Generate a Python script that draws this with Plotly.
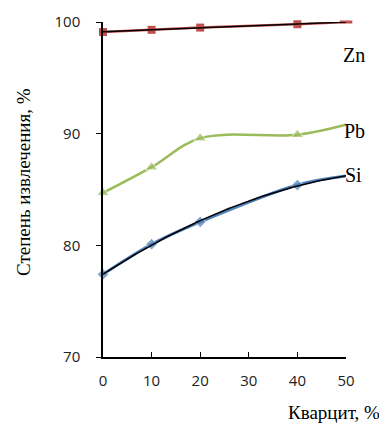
import numpy as np
import plotly.graph_objects as go

quartzite = [0, 10, 20, 40, 50]
zn = [99.1, 99.3, 99.5, 99.8, 100.0]
pb = [84.7, 87.0, 89.6, 89.9, 90.8]
si = [77.4, 80.1, 82.1, 85.4, 86.2]
x_ticks = [0, 10, 20, 30, 40, 50]
y_ticks = [70, 80, 90, 100]
series_names = ["Zn", "Pb", "Si"]

RED = "#C0504D"
GREEN = "#9BBB59"
BLUE = "#4F81BD"

fig = go.Figure()

# Zn
fig.add_trace(go.Scatter(x=quartzite, y=zn, mode="lines", line=dict(color=RED, width=2.5),
                         cliponaxis=False, showlegend=False))
fig.add_trace(go.Scatter(x=quartzite[:4], y=zn[:4], mode="markers",
                         marker=dict(symbol="square", size=8, color=RED),
                         cliponaxis=False, showlegend=False))
fig.add_trace(go.Scatter(x=quartzite[4:], y=zn[4:], mode="markers",
                         marker=dict(symbol="line-ew", size=9, color=RED,
                                     line=dict(color=RED, width=3)),
                         cliponaxis=False, showlegend=False))
# Zn linear trendline
xf = np.linspace(0, 50, 101)
cz = np.polyfit(quartzite[:4], zn[:4], 1)
fig.add_trace(go.Scatter(x=xf, y=np.polyval(cz, xf), mode="lines", line=dict(color="black", width=1.5),
                         cliponaxis=False, showlegend=False))

# Pb
fig.add_trace(go.Scatter(x=quartzite, y=pb, mode="lines+markers", line=dict(color=GREEN, width=2.5, shape="spline"),
                         marker=dict(symbol="triangle-up", size=[11, 11, 11, 11, 0], color=GREEN),
                         cliponaxis=False, showlegend=False))

# Si
fig.add_trace(go.Scatter(x=quartzite, y=si, mode="lines+markers", line=dict(color=BLUE, width=3, shape="spline"),
                         marker=dict(symbol="diamond", size=[9, 9, 9, 9, 0], color=BLUE),
                         cliponaxis=False, showlegend=False))
cs = np.polyfit(quartzite, si, 2)
fig.add_trace(go.Scatter(x=xf, y=np.polyval(cs, xf), mode="lines", line=dict(color="black", width=1.5),
                         cliponaxis=False, showlegend=False))

serif = "Liberation Serif"
sans = "Open Sans"

# page has an 8px body margin, so the figure is 8px smaller and shifted
OFF = 8
W, H = 387 - OFF, 426 - OFF
L, T, B = 103 - OFF, 22 - OFF, 69
R = W - L - 243

fig.update_layout(
    width=W, height=H,
    margin=dict(l=L, r=R, t=T, b=B, autoexpand=False),
    paper_bgcolor="white", plot_bgcolor="white",
    xaxis=dict(range=[0, 50], tickvals=x_ticks, ticks="inside", ticklen=5, tickcolor="black",
               showline=True, linecolor="black", linewidth=1.5, showgrid=False, zeroline=False,
               tickfont=dict(family=sans, size=15, color="#222"), ticklabelstandoff=9),
    yaxis=dict(range=[70, 100], tickvals=y_ticks, ticks="outside", ticklen=5, tickcolor="black",
               showline=True, linecolor="black", linewidth=1.5, showgrid=False, zeroline=False,
               tickfont=dict(family=sans, size=15, color="#222"), ticklabelstandoff=13),
    annotations=[
        dict(text="Степень извлечения, %", x=23, y=182, showarrow=False,
             textangle=-90, font=dict(family=serif, size=19, color="black"), xanchor="center", yanchor="middle"),
        dict(text="Кварцит, %", x=382, y=412, showarrow=False,
             font=dict(family=serif, size=19, color="black"), xanchor="right", yanchor="middle"),
        dict(text=series_names[0], x=367, y=42, showarrow=False, font=dict(family=serif, size=20, color="black")),
        dict(text=series_names[1], x=367, y=118, showarrow=False, font=dict(family=serif, size=20, color="black")),
        dict(text=series_names[2], x=364, y=175, showarrow=False, font=dict(family=serif, size=20, color="black")),
    ],
)

# convert window-pixel annotation coords to paper coords
pw, ph = 243, 335
for a in fig.layout.annotations:
    px, py = a.x, a.y
    a.xref = "paper"; a.yref = "paper"
    a.x = (px - 103) / pw
    a.y = (357 - py) / ph

fig.write_html("out.html")
